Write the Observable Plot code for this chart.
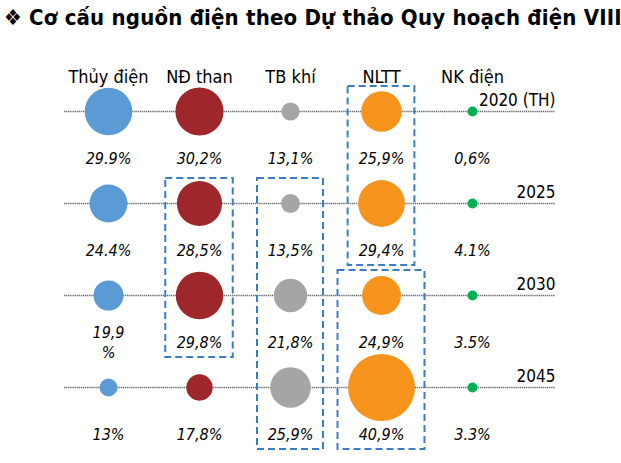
<!DOCTYPE html>
<html><head><meta charset="utf-8">
<script src="https://cdn.jsdelivr.net/npm/d3@7"></script>
<script src="https://cdn.jsdelivr.net/npm/@observablehq/plot@0.6"></script>
<style>
body{margin:0;background:#fff;}
#wrap{position:relative;width:621px;height:463px;overflow:hidden;}
#title{position:absolute;left:4px;top:5px;font:bold 22px "DejaVu Sans Condensed", sans-serif;letter-spacing:0.2px;white-space:nowrap;color:#000;}
#chart{position:absolute;left:0;top:0;}
</style></head><body>
<div id="wrap"><div id="chart"></div><div id="title">❖ Cơ cấu nguồn điện theo Dự thảo Quy hoạch điện VIII</div></div>
<script>
const categories = ["Thủy điện", "NĐ than", "TB khí", "NLTT", "NK điện"];
const years = ["2020 (TH)", "2025", "2030", "2045"];
const values2020 = [29.9, 30.2, 13.1, 25.9, 0.6];
const values2025 = [24.4, 28.5, 13.5, 29.4, 4.1];
const values2030 = [19.9, 29.8, 21.8, 24.9, 3.5];
const values2045 = [13.0, 17.8, 25.9, 40.9, 3.3];
const labels2020 = ["29.9%", "30,2%", "13,1%", "25,9%", "0,6%"];
const labels2025 = ["24.4%", "28,5%", "13,5%", "29,4%", "4.1%"];
const labels2030 = ["19,9\n%", "29,8%", "21,8%", "24,9%", "3.5%"];
const labels2045 = ["13%", "17,8%", "25,9%", "40,9%", "3.3%"];
const colors = ["#5B9BD5", "#9E272B", "#A5A5A5", "#F7941D", "#00B050"];
const boxes = [
  {cat: "NLTT", from: "2020 (TH)", to: "2025"},
  {cat: "NĐ than", from: "2025", to: "2030"},
  {cat: "TB khí", from: "2025", to: "2045"},
  {cat: "NLTT", from: "2030", to: "2045"}
];

const allValues = [values2020, values2025, values2030, values2045];
const allLabels = [labels2020, labels2025, labels2030, labels2045];
const rows = years.flatMap((y, i) => categories.map((c, j) => ({year: y, cat: c, value: allValues[i][j], label: allLabels[i][j]})));

const rDomain = [8.5, 40.9], rRange = [5, 33.5];
const rOf = d3.scaleLinear(rDomain, rRange).clamp(true);
const boxData = boxes.map(b => {
  const i0 = years.indexOf(b.from), i1 = years.indexOf(b.to);
  const vals = rows.filter(d => d.cat === b.cat && years.indexOf(d.year) >= i0 && years.indexOf(d.year) <= i1).map(d => d.value);
  return {...b, half: Math.max(33, rOf(d3.max(vals)) + 10)};
});

const chart = Plot.plot({
  width: 621,
  height: 463,
  marginLeft: 64,
  marginRight: 66,
  marginTop: 70,
  marginBottom: 10,
  style: {fontFamily: "'DejaVu Sans Condensed', sans-serif", background: "white", color: "#000"},
  x: {type: "point", domain: categories, padding: 0, insetLeft: 44, insetRight: 83, axis: null},
  y: {type: "point", domain: years, padding: 0, insetTop: 41, insetBottom: 66, axis: null},
  r: {type: "linear", domain: rDomain, range: rRange, clamp: true},
  color: {domain: categories, range: colors},
  marks: [
    Plot.ruleY(years, {y: d => d, stroke: "#666", strokeWidth: 1.5, strokeDasharray: "1.3,0.8"}),
    ...boxData.map(b => Plot.rect([b], {
      x1: "cat", x2: "cat", y1: "from", y2: "to",
      insetLeft: -b.half, insetRight: -b.half, insetTop: -25, insetBottom: -62,
      fill: "none", stroke: "#3B7DC4", strokeWidth: 2, strokeDasharray: "7,4"
    })),
    Plot.dot(rows, {x: "cat", y: "year", r: "value", fill: "cat", stroke: "none"}),
    Plot.text(rows, {x: "cat", y: "year", text: "label", dy: 46, fontSize: 16, lineHeight: 1.25, fontStyle: "italic", fill: "#000"}),
    Plot.text(years, {y: d => d, text: d => d, frameAnchor: "right", textAnchor: "end", dy: -11, fontSize: 17, fill: "#000"}),
    Plot.text(categories, {x: d => d, text: d => d, frameAnchor: "top", fontSize: 18, fill: "#000"})
  ]
});
document.getElementById("chart").appendChild(chart);
</script>
</body></html>
